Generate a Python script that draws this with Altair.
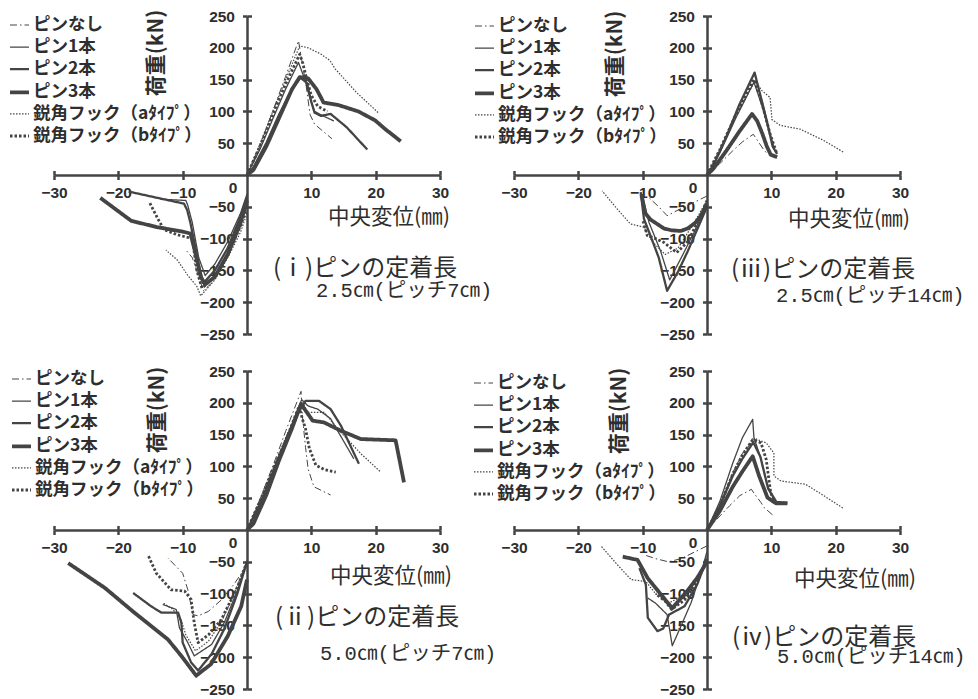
import altair as alt
import pandas as pd

# ---------------- series definitions ----------------
SERIES = ["ピンなし", "ピン1本", "ピン2本", "ピン3本", "鋭角フック（aﾀｲﾌﾟ）", "鋭角フック（bﾀｲﾌﾟ）"]
KEYS = ["none", "one", "two", "three", "a", "b"]
DASHES = [[7, 3, 1.5, 3], [1, 0], [1, 0], [1, 0], [1.5, 1.5], [2.5, 2]]
WIDTHS = [1.0, 1.3, 2.3, 3.8, 1.2, 2.8]

X_TICKS = [-30, -20, -10, 10, 20, 30]
Y_TICKS = [-250, -200, -150, -100, -50, 50, 100, 150, 200, 250]

# ---------------- panel (i): 2.5cm, pitch 7cm ----------------
I_NONE_POS = [(0, 0), (2, 45), (4, 100), (6, 155), (8.0, 211), (9.2, 140), (9.8, 95), (10.5, 80), (13.2, 57)]
I_NONE_NEG = [(0, -45), (-1.5, -85), (-3.5, -135), (-5.5, -170), (-6.8, -182), (-7.5, -160), (-8.5, -130), (-9.5, -118)]
I_ONE_POS = [(0, 0), (2, 40), (4, 88), (6, 135), (8.0, 177), (9.0, 150), (9.8, 120), (10.5, 100), (12, 92), (13.5, 85)]
I_ONE_NEG = [(0, -30), (-1, -60), (-3, -105), (-5, -140), (-6.5, -158), (-7.5, -130), (-8.5, -75), (-9.2, -48), (-9.5, -40), (-13.5, -38)]
I_TWO_POS = [(0, 0), (1, 12), (3, 50), (5, 95), (7, 135), (8.3, 153), (9.3, 145), (10.0, 115), (10.5, 98), (11.5, 93), (13, 96), (15.5, 75), (18.7, 40)]
I_TWO_NEG = [(0, -35), (-1, -65), (-3, -115), (-5, -150), (-6.8, -170), (-7.5, -140), (-8.3, -100), (-8.8, -75), (-9.3, -55), (-9.8, -45), (-13, -38), (-18.4, -26)]
I_THREE_POS = [(0, 0), (1, 8), (3, 45), (5, 90), (7, 135), (8.2, 154), (9.5, 152), (10.8, 135), (11.9, 114), (14.2, 110), (17.3, 100), (19.9, 86), (21.5, 72), (23.9, 53)]
I_THREE_NEG = [(0, -40), (-1, -75), (-3, -125), (-5, -160), (-6.5, -172), (-7.2, -160), (-8.2, -115), (-8.8, -92), (-10, -89), (-14, -82), (-18, -72), (-22.8, -36)]
I_A_POS = [(0, 0), (2, 48), (4, 100), (6, 150), (8.2, 203), (9.5, 200), (11.5, 190), (12.9, 180), (13.7, 167), (17, 130), (20.5, 97)]
I_A_NEG = [(0, -60), (-1, -90), (-3, -130), (-5, -165), (-7.2, -190), (-7.8, -175), (-9.2, -158), (-10.8, -134), (-12.6, -118)]
I_B_POS = [(0, 0), (2, 45), (4, 95), (6, 143), (8.2, 190), (8.7, 175), (9.3, 150), (10, 125), (11, 108), (12.5, 100)]
I_B_NEG = [(0, -50), (-1, -80), (-3, -125), (-5, -160), (-7, -178), (-7.8, -150), (-8.5, -100), (-10.8, -94), (-12.9, -86), (-13.9, -68), (-15.2, -42)]

# ---------------- panel (iii): 2.5cm, pitch 14cm ----------------
III_NONE_POS = [(0, 0), (2, 18), (4, 38), (5.5, 52), (7.2, 64), (7.8, 55), (8.8, 40), (9.5, 32)]
III_NONE_NEG = [(0, -33), (-2, -43), (-4.1, -53), (-6.2, -64), (-7.5, -50), (-9.3, -33)]
III_ONE_POS = [(0, 0), (2, 35), (4.5, 90), (7.3, 146), (8.5, 110), (9.5, 75), (10.5, 40)]
III_ONE_NEG = [(0, -45), (-2, -90), (-4, -130), (-5.8, -165), (-7.2, -120), (-9, -75), (-10, -35)]
III_TWO_POS = [(0, 0), (1, 15), (3, 60), (5, 110), (7.4, 161), (8.3, 125), (9.3, 85), (10.2, 45), (10.9, 33)]
III_TWO_NEG = [(0, -50), (-1.5, -85), (-3, -120), (-4.5, -152), (-6.2, -182), (-7.5, -130), (-8.8, -95), (-9.8, -69), (-10.3, -27)]
III_THREE_POS = [(0, 0), (1, 10), (3, 38), (5, 68), (7, 96), (7.8, 85), (8.6, 65), (9.3, 45), (9.9, 32), (10.9, 28)]
III_THREE_NEG = [(0, -45), (-0.8, -62), (-1.8, -75), (-3, -84), (-4.1, -88), (-5.5, -87), (-6.7, -84), (-8.8, -70), (-9.6, -60), (-10.2, -30)]
III_A_POS = [(0, 0), (2, 40), (4.5, 95), (7.5, 148), (8.5, 133), (9.8, 122), (10.1, 87), (11.4, 78), (14.5, 72), (18, 55), (21.2, 36)]
III_A_NEG = [(0, -40), (-2, -75), (-4.5, -115), (-6.5, -125), (-8.5, -105), (-9.8, -82), (-11.9, -77), (-14, -53), (-16.3, -25)]
III_B_POS = [(0, 0), (2, 40), (4.5, 95), (7.3, 150), (8.2, 125), (9, 95), (9.8, 65), (10.8, 35)]
III_B_NEG = [(0, -40), (-1.5, -75), (-3, -105), (-4.7, -122), (-6.7, -106), (-8, -100), (-9.3, -95), (-10, -70)]

# ---------------- panel (ii): 5.0cm, pitch 7cm ----------------
II_NONE_POS = [(0, 0), (2, 48), (4, 100), (6, 155), (8.4, 218), (8.6, 180), (9.1, 130), (9.5, 96), (10.4, 68), (13, 55)]
II_NONE_NEG = [(0, -55), (-2, -85), (-4, -110), (-6, -128), (-7.6, -135), (-8.4, -133), (-9.2, -94), (-10, -68), (-12.3, -44)]
II_ONE_POS = [(0, 0), (2, 42), (4, 92), (6, 142), (8.5, 205), (9.5, 195), (11, 190), (13, 175), (15, 140), (16.6, 112)]
II_ONE_NEG = [(0, -48), (-1.5, -95), (-3.5, -145), (-5.5, -180), (-8.2, -198), (-9.2, -177), (-10.5, -154), (-11, -125), (-13.1, -117)]
II_TWO_POS = [(0, 0), (2, 40), (4, 90), (6, 140), (8, 185), (9.1, 203), (11.2, 203), (13, 190), (14.6, 164), (17.4, 104)]
II_TWO_NEG = [(0, -50), (-1.5, -100), (-3.5, -155), (-5.5, -195), (-7.6, -221), (-8.7, -208), (-10, -177), (-10.2, -146), (-10.7, -130), (-13.3, -130), (-14.9, -120), (-17.7, -99)]
II_THREE_POS = [(0, 0), (1, 10), (3, 55), (5, 110), (7, 160), (8.4, 198), (10.2, 172), (12, 169), (14.6, 156), (17.7, 143), (23.1, 141), (24.4, 75)]
II_THREE_NEG = [(0, -78), (-0.9, -120), (-3, -167), (-5.6, -211), (-7.9, -229), (-10.2, -198), (-12.3, -172), (-17.5, -130), (-22.1, -91), (-27.8, -52)]
II_A_POS = [(0, 0), (2, 45), (4, 95), (6, 145), (8.7, 200), (9.4, 185), (12, 185), (14.1, 159), (17.7, 120), (20.8, 91)]
II_A_NEG = [(0, -50), (-2, -100), (-4, -145), (-6, -175), (-8, -190), (-9.5, -165), (-10.3, -140), (-11.5, -125), (-13, -115)]
II_B_POS = [(0, 0), (2, 45), (4, 95), (6, 140), (8.1, 195), (8.6, 175), (9.1, 159), (9.7, 128), (10.7, 102), (12, 95), (13.8, 91)]
II_B_NEG = [(0, -50), (-1.5, -90), (-4, -141), (-6, -165), (-7.6, -177), (-8.2, -146), (-8.7, -109), (-9.7, -96), (-11.8, -94), (-14.1, -68), (-15.4, -39)]

# ---------------- panel (iv): 5.0cm, pitch 14cm ----------------
IV_NONE_POS = [(0, 0), (2, 22), (3.5, 38), (5.1, 54), (6.9, 64), (7.3, 58), (8.4, 43), (8.9, 35), (10.4, 22)]
IV_NONE_NEG = [(0, -25), (-2, -35), (-4, -45), (-6, -50), (-8, -45), (-9.5, -40)]
IV_ONE_POS = [(0, 0), (2, 45), (4, 105), (5.5, 145), (7.1, 174), (7.3, 145), (8.3, 115), (9.4, 70), (10.4, 48)]
IV_ONE_NEG = [(0, -34), (-1, -70), (-2.5, -115), (-4, -150), (-5.4, -182), (-6.2, -133), (-8, -115), (-9.2, -107)]
IV_TWO_POS = [(0, 0), (2, 38), (4, 85), (5.5, 112), (7.2, 138), (8.3, 115), (9.5, 65), (10.8, 44), (12.5, 43)]
IV_TWO_NEG = [(0, -45), (-1.5, -85), (-3.5, -120), (-5.9, -133), (-6.8, -155), (-7.7, -159), (-9.2, -138), (-9.5, -86), (-10.5, -60)]
IV_THREE_POS = [(0, 0), (2, 30), (4, 68), (5.5, 92), (7.1, 116), (8.1, 85), (9.4, 51), (10.7, 42), (12.5, 42)]
IV_THREE_NEG = [(0, -50), (-1.5, -75), (-3, -95), (-5.4, -123), (-6.7, -107), (-9.2, -76), (-10.8, -47), (-13.1, -42)]
IV_A_POS = [(0, 0), (2, 40), (4, 90), (5.5, 120), (7.4, 144), (9.2, 137), (10.4, 121), (10.4, 85), (11.5, 77), (15.3, 72), (18, 55), (21.2, 34)]
IV_A_NEG = [(0, -50), (-2, -80), (-4, -105), (-6, -115), (-8, -100), (-9.5, -81), (-11.8, -78), (-13.9, -55), (-16.4, -26)]
IV_B_POS = [(0, 0), (2, 38), (4, 88), (5.5, 118), (7.1, 142), (8.4, 137), (9.2, 111), (9.9, 59), (10.4, 45)]
IV_B_NEG = [(0, -45), (-1.5, -80), (-3.5, -110), (-5.5, -125), (-6.5, -112), (-8, -100)]

CAPTIONS = {
    "i": ("(ⅰ)ピンの定着長", "2.5㎝(ピッチ7㎝)"),
    "ii": ("(ⅱ)ピンの定着長", "5.0㎝(ピッチ7㎝)"),
    "iii": ("(ⅲ)ピンの定着長", "2.5㎝(ピッチ14㎝)"),
    "iv": ("(ⅳ)ピンの定着長", "5.0㎝(ピッチ14㎝)"),
}
X_TITLE = "中央変位(㎜)"
Y_TITLE = "荷重(kN)"

# ---------------- styling ----------------
W, H = 386, 318
LINE_COLOR = "#444444"
TEXT = "#2e2e2e"
JP = "Noto Sans CJK JP"
NUM = "Liberation Sans"
CAP2_FONT = "Liberation Mono, Noto Sans CJK JP"

# layout offsets (pixels within each panel's plot area)
LAYOUT = {
    "i":   dict(lx=-46, ly=-1, c1=(219, 253), c2=(262, 275), xt=(335, 202), yt=(103, 37)),
    "iii": dict(lx=-41, ly=0, c1=(217, 254), c2=(262, 280), xt=(335, 204), yt=(102, 38)),
    "ii":  dict(lx=-44, ly=-2, c1=(221, 247), c2=(266, 283), xt=(337, 206), yt=(104, 39)),
    "iv":  dict(lx=-42, ly=2, c1=(218, 267), c2=(263, 286), xt=(341, 209), yt=(106, 40)),
}


def build_df(prefix):
    g = globals()
    rows = []
    for name, key in zip(SERIES, KEYS):
        for branch in ("POS", "NEG"):
            pts = g[f"{prefix}_{key.upper()}_{branch}"]
            for k, (xv, yv) in enumerate(pts):
                rows.append({"series": name, "branch": branch, "i": k, "x": xv, "y": yv})
    return pd.DataFrame(rows)


def make_panel(pid):
    df = build_df(pid.upper())
    lay = LAYOUT[pid]
    xs = alt.Scale(domain=[-30, 30], nice=False, zero=False)
    ys = alt.Scale(domain=[-250, 250], nice=False, zero=False)
    legend = alt.Legend(
        title=None, orient="none", legendX=lay["lx"], legendY=lay["ly"],
        symbolType="stroke", symbolSize=360, symbolStrokeColor=LINE_COLOR,
        labelFont=JP, labelFontSize=17.5, labelFontWeight="bold", labelColor=TEXT,
        labelLimit=400, rowPadding=2.6, labelOffset=2, padding=0,
    )
    lines = alt.Chart(df).mark_line(strokeJoin="round").encode(
        x=alt.X("x:Q", scale=xs, axis=alt.Axis(
            orient="bottom", offset=-H / 2, values=X_TICKS, title=None,
            labelPadding=6, labelFlush=False, labelOverlap=False, labelBound=False,
            format="d")),
        y=alt.Y("y:Q", scale=ys, axis=alt.Axis(
            orient="left", offset=-W / 2, values=Y_TICKS, title=None,
            labelPadding=8, labelFlush=False, labelOverlap=False, labelBound=False,
            format="d")),
        color=alt.Color("series:N", scale=alt.Scale(domain=SERIES, range=[LINE_COLOR] * 6), legend=legend),
        strokeDash=alt.StrokeDash("series:N", scale=alt.Scale(domain=SERIES, range=DASHES), legend=legend),
        strokeWidth=alt.StrokeWidth("series:N", scale=alt.Scale(type="ordinal", domain=SERIES, range=WIDTHS), legend=legend),
        detail="branch:N",
        order="i:Q",
    )
    ghost = alt.Chart(df).mark_point(opacity=0).encode(
        x=alt.X("x:Q", scale=xs, axis=alt.Axis(
            orient="top", offset=-H / 2, values=X_TICKS, labels=False, domain=False, title=None)),
        y=alt.Y("y:Q", scale=ys, axis=alt.Axis(
            orient="right", offset=-W / 2, values=Y_TICKS, labels=False, domain=False, title=None)),
    )
    zero = alt.Chart(pd.DataFrame({"x": [0], "y": [0], "t": ["0"]})).mark_text(
        font=NUM, fontSize=15.5, fontWeight="bold", color=TEXT, dx=-14, dy=13
    ).encode(
        x=alt.X("x:Q", scale=xs, axis=None),
        y=alt.Y("y:Q", scale=ys, axis=None),
        text="t:N",
    )
    one = pd.DataFrame({"k": [0]})
    cap1, cap2 = CAPTIONS[pid]
    t1 = alt.Chart(one).mark_text(align="left", baseline="middle", font=JP, fontSize=24, color=TEXT).encode(
        x=alt.value(lay["c1"][0]), y=alt.value(lay["c1"][1]), text=alt.value(cap1))
    t2 = alt.Chart(one).mark_text(align="left", baseline="middle", font=CAP2_FONT, fontSize=20.5, color=TEXT).encode(
        x=alt.value(lay["c2"][0]), y=alt.value(lay["c2"][1]), text=alt.value(cap2))
    xt = alt.Chart(one).mark_text(align="center", baseline="middle", font=JP, fontSize=21.5, color=TEXT).encode(
        x=alt.value(lay["xt"][0]), y=alt.value(lay["xt"][1]), text=alt.value(X_TITLE))
    yt = alt.Chart(one).mark_text(align="center", baseline="middle", font=JP, fontSize=21, fontWeight="bold",
                                  color=TEXT, angle=270).encode(
        x=alt.value(lay["yt"][0]), y=alt.value(lay["yt"][1]), text=alt.value(Y_TITLE))
    return alt.layer(lines, ghost, zero, t1, t2, xt, yt).resolve_axis(
        x="independent", y="independent").properties(width=W, height=H)


chart = alt.concat(
    make_panel("i"), make_panel("iii"), make_panel("ii"), make_panel("iv"),
    columns=2, spacing={"row": 37, "column": 74}, bounds="flush",
).resolve_scale(
    color="independent", strokeDash="independent", strokeWidth="independent"
).properties(
    padding={"top": 1, "left": 0, "right": 0, "bottom": 0}
).configure_view(strokeWidth=0).configure_axis(
    grid=False, domainColor=LINE_COLOR, domainWidth=2.5, tickColor=LINE_COLOR,
    tickWidth=2.5, tickSize=4.5, labelFont=NUM, labelFontSize=15.5,
    labelFontWeight="bold", labelColor=TEXT,
)

chart.save("out.html", embed_options={"renderer": "svg", "actions": False})
